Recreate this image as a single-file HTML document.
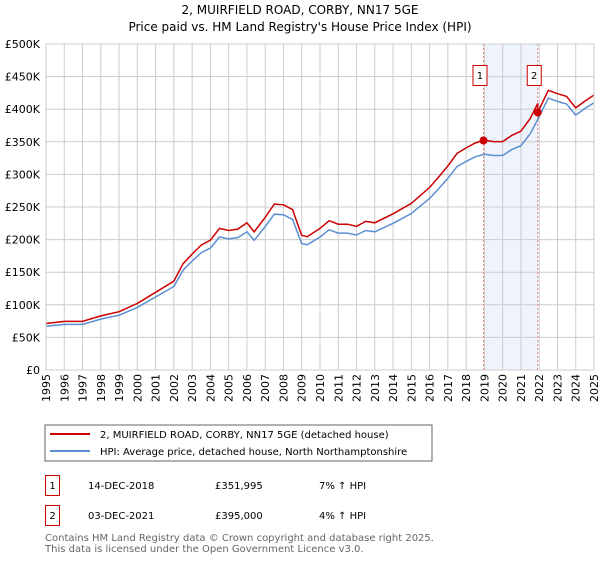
<!DOCTYPE html>
<html><head><meta charset="utf-8"><style>
body{margin:0;background:#fff;font-family:"DejaVu Sans","Liberation Sans",sans-serif;}
svg text{font-family:"DejaVu Sans","Liberation Sans",sans-serif;}
</style></head><body>
<svg id="c" width="600" height="560" xmlns="http://www.w3.org/2000/svg">
<text x="300" y="14" text-anchor="middle" font-size="12" fill="#000">2, MUIRFIELD ROAD, CORBY, NN17 5GE</text>
<text x="300" y="31" text-anchor="middle" font-size="12" fill="#000">Price paid vs. HM Land Registry's House Price Index (HPI)</text>
<g id="grid"></g><g id="series"></g><g id="axes"></g>
<rect x="45" y="425" width="387" height="36" fill="#fff" stroke="#666"/>
<line x1="50" y1="434" x2="90" y2="434" stroke="#cc0000" stroke-width="2"/>
<text x="100" y="438" font-size="10">2, MUIRFIELD ROAD, CORBY, NN17 5GE (detached house)</text>
<line x1="50" y1="451" x2="90" y2="451" stroke="#5b8fd4" stroke-width="2"/>
<text x="100" y="455" font-size="10">HPI: Average price, detached house, North Northamptonshire</text>
<rect x="45.5" y="475.5" width="14" height="20" fill="#fff" stroke="#cc0000"/>
<text x="52.5" y="489" text-anchor="middle" font-size="10">1</text>
<text x="88" y="489" font-size="10">14-DEC-2018</text>
<text x="215" y="489" font-size="10">£351,995</text>
<text x="319" y="489" font-size="10">7% ↑ HPI</text>
<rect x="45.5" y="505.5" width="14" height="20" fill="#fff" stroke="#cc0000"/>
<text x="52.5" y="519" text-anchor="middle" font-size="10">2</text>
<text x="88" y="519" font-size="10">03-DEC-2021</text>
<text x="215" y="519" font-size="10">£395,000</text>
<text x="319" y="519" font-size="10">4% ↑ HPI</text>
<text x="45" y="541" font-size="10" fill="#666">Contains HM Land Registry data © Crown copyright and database right 2025.</text>
<text x="45" y="552" font-size="10" fill="#666">This data is licensed under the Open Government Licence v3.0.</text>
</svg>
<script>
const hpiYears=[1995,1996,1997,1998,1999,2000,2001,2002,2002.5,2003,2003.5,2004,2004.5,2005,2005.5,2006,2006.4,2007,2007.5,2008,2008.5,2008.9,2009,2009.3,2010,2010.5,2011,2011.5,2012,2012.5,2013,2014,2015,2016,2016.5,2017,2017.5,2018,2018.5,2019,2019.5,2020,2020.5,2021,2021.5,2021.92,2022.5,2023,2023.5,2024,2024.5,2025];
const hpiValues=[67,70,70,78,84,96,112,128,153,167,180,187,204,201,203,212,199,220,239,238,231,201,194,192,204,215,210,210,207,214,212,225,240,263,278,294,312,320,327,331,329,329,338,344,362,384,417,412,408,391,401,410];
const saleYears=[2018.95,2021.92];
const salePrices=[351.995,395];
const saleLabels=["1","2"];
const yTicks=[0,50,100,150,200,250,300,350,400,450,500];
const yTickLabels=["£0","£50K","£100K","£150K","£200K","£250K","£300K","£350K","£400K","£450K","£500K"];
const xTicks=[1995,1996,1997,1998,1999,2000,2001,2002,2003,2004,2005,2006,2007,2008,2009,2010,2011,2012,2013,2014,2015,2016,2017,2018,2019,2020,2021,2022,2023,2024,2025];
const NS="http://www.w3.org/2000/svg";
const X0=46,X1=594,Y0=370,Y1=44;
const sx=y=>X0+(y-1995)/30*(X1-X0);
const sy=v=>Y0-v/500*(Y0-Y1);
function mk(tag,attrs,parent){const e=document.createElementNS(NS,tag);for(const k in attrs)e.setAttribute(k,attrs[k]);parent.appendChild(e);return e;}
const grid=document.getElementById('grid'),ser=document.getElementById('series'),ax=document.getElementById('axes');
const band=mk('rect',{x:sx(saleYears[0]),y:Y1,width:sx(saleYears[1])-sx(saleYears[0]),height:Y0-Y1,fill:'#eef3fc'},grid);


yTicks.forEach((v,i)=>{
 const l=mk('line',{x1:X0,x2:X1,y1:sy(v),y2:sy(v),stroke:'#ccc','stroke-width':1},grid);
 
 
 const t=mk('text',{x:40,y:sy(v)+4,'text-anchor':'end','font-size':11},ax);
 t.textContent=yTickLabels[i];
 
 
});
xTicks.forEach(y=>{
 const l=mk('line',{x1:sx(y),x2:sx(y),y1:Y1,y2:Y0,stroke:'#ccc','stroke-width':1},grid);
 
 
 const xx=sx(y)+4;
 const t=mk('text',{x:xx,y:374,'text-anchor':'end','font-size':11,transform:'rotate(-90 '+xx+' 374)'},ax);
 t.textContent=String(y);
 
 
});
saleYears.forEach((y,i)=>{
 const l=mk('line',{x1:sx(y),x2:sx(y),y1:Y1,y2:Y0,stroke:'#f08080','stroke-dasharray':'2,2','stroke-width':1},ser);
 
 
});
let hp=hpiYears.map((y,i)=>sx(y).toFixed(1)+','+sy(hpiValues[i]).toFixed(1)).join(' ');
const hl=mk('polyline',{points:hp,fill:'none',stroke:'#5b8fd4','stroke-width':1.5},ser);


function hpiAt(y){for(let i=1;i<hpiYears.length;i++){if(y<=hpiYears[i]){const t=(y-hpiYears[i-1])/(hpiYears[i]-hpiYears[i-1]);return hpiValues[i-1]+t*(hpiValues[i]-hpiValues[i-1]);}}return hpiValues[hpiValues.length-1];}
const r1=salePrices[0]/hpiAt(saleYears[0]), r2=salePrices[1]/hpiAt(saleYears[1]);
const pts=[];let done=false;
hpiYears.forEach((y,i)=>{
 if(y>saleYears[1]&&!done){pts.push([saleYears[1],hpiAt(saleYears[1])*r1]);pts.push([saleYears[1],salePrices[1]]);done=true;}
 pts.push([y,hpiValues[i]*(y<=saleYears[1]?r1:r2)]);
});
const pl=mk('polyline',{points:pts.map(p=>sx(p[0]).toFixed(1)+','+sy(p[1]).toFixed(1)).join(' '),fill:'none',stroke:'#cc0000','stroke-width':1.5},ser);


saleYears.forEach((y,i)=>{
 const c=mk('circle',{cx:sx(y),cy:sy(salePrices[i]),r:4,fill:'#cc0000'},ser);
 
 
 const b=mk('rect',{x:sx(y)-10.5,y:65.5,width:14,height:20,fill:'#fff',stroke:'#cc0000'},ser);
 
 
 const t=mk('text',{x:sx(y)-3.5,y:79,'text-anchor':'middle','font-size':10},ser);
 t.textContent=saleLabels[i];
 
 
});
const bd=mk('rect',{x:X0,y:Y1,width:X1-X0,height:Y0-Y1,fill:'none',stroke:'#ccc'},ax);


</script>
</body></html>
